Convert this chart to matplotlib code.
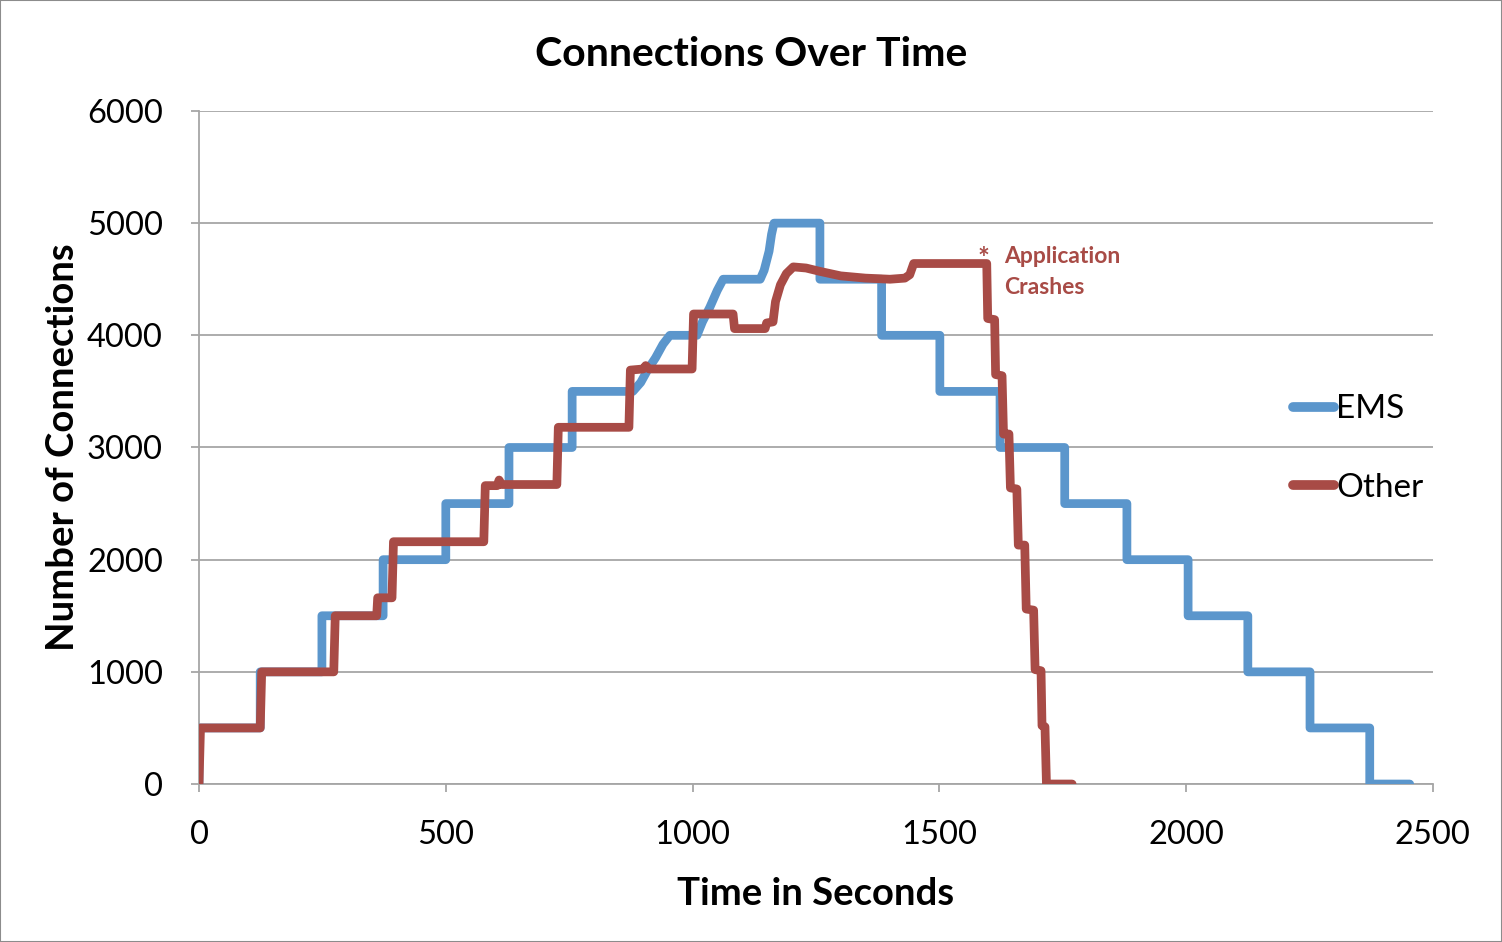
import numpy as np
import matplotlib.pyplot as plt
from matplotlib.patches import Rectangle

plt.rcParams['font.family'] = ['Lato', 'DejaVu Sans']

# EMS series (time in seconds, number of connections)
ems_t = [0, 0, 124, 124, 249, 249, 373, 373, 500, 500, 628, 628, 756, 756,
         879, 895, 910, 925, 940, 954, 1009, 1020, 1035, 1050, 1062,
         1137, 1145, 1155, 1160, 1165, 1258, 1258, 1383, 1383, 1501, 1501,
         1623, 1623, 1754, 1754, 1880, 1880, 2004, 2004, 2125, 2125,
         2251, 2251, 2372, 2372, 2453]
ems_v = [0, 500, 500, 1000, 1000, 1500, 1500, 2000, 2000, 2500, 2500, 3000, 3000, 3500,
         3500, 3580, 3700, 3800, 3920, 4000, 4000, 4120, 4250, 4400, 4500,
         4500, 4580, 4750, 4900, 5000, 5000, 4500, 4500, 4000, 4000, 3500,
         3500, 3000, 3000, 2500, 2500, 2000, 2000, 1500, 1500, 1000,
         1000, 500, 500, 0, 0]

# Other series
other_t = [0, 3, 124, 127, 273, 276, 360, 362, 391, 394, 577, 580, 604, 608, 613,
           725, 728, 871, 874, 900, 905, 912, 999, 1002, 1082, 1085, 1147, 1150,
           1163, 1168, 1178, 1190, 1204, 1230, 1258, 1300, 1350, 1400, 1430, 1440,
           1448, 1596, 1598, 1612, 1614, 1627, 1630, 1641, 1644, 1657, 1660, 1673,
           1676, 1691, 1694, 1706, 1708, 1714, 1717, 1769]
other_v = [0, 500, 500, 1000, 1000, 1500, 1500, 1660, 1660, 2160, 2160, 2660, 2660, 2710, 2670,
           2670, 3180, 3180, 3690, 3700, 3730, 3700, 3700, 4190, 4190, 4060, 4060, 4110,
           4120, 4300, 4450, 4550, 4610, 4600, 4570, 4530, 4510, 4500, 4510, 4540,
           4640, 4640, 4150, 4140, 3650, 3640, 3120, 3120, 2640, 2630, 2130, 2130,
           1560, 1550, 1020, 1010, 520, 510, 0, 0]

x_ticks = [0, 500, 1000, 1500, 2000, 2500]
y_ticks = [0, 1000, 2000, 3000, 4000, 5000, 6000]

blue = '#5B96CC'
red = '#A84B46'
grid_c = '#A6A6A6'

fig = plt.figure(figsize=(15.02, 9.42), dpi=100)
ax = fig.add_axes([0.1325, 0.1677, 0.8215, 0.7145])

ax.plot(ems_t, ems_v, color=blue, lw=6.3, solid_joinstyle='round',
        solid_capstyle='round', label='EMS', zorder=3)
ax.plot(other_t, other_v, color=red, lw=6.3, solid_joinstyle='round',
        solid_capstyle='round', label='Other', zorder=4)

ax.set_xlim(0, 2500)
ax.set_ylim(0, 6000)
ax.set_xticks(x_ticks)
ax.set_yticks(y_ticks)
ax.yaxis.grid(True, color=grid_c, lw=1.3)
ax.set_axisbelow(True)
for s in ['top', 'right']:
    ax.spines[s].set_visible(False)
for s in ['left', 'bottom']:
    ax.spines[s].set_color(grid_c)
    ax.spines[s].set_linewidth(1.3)
ax.tick_params(axis='both', colors=grid_c, labelcolor='black', labelsize=23.5,
               length=6, width=1.3, direction='out')
ax.tick_params(axis='x', pad=20)
ax.tick_params(axis='y', pad=20)

fig.text(0.5, 0.942, 'Connections Over Time', fontsize=29.5, fontweight='bold',
         ha='center', va='center')
ax.set_xlabel('Time in Seconds', fontsize=27.5, fontweight='bold', labelpad=19)
ax.set_ylabel('Number of Connections', fontsize=27.5, fontweight='bold', labelpad=5)

ax.text(1589, 4680, '*', color=red, fontsize=20, fontweight='bold', ha='center', va='center')
ax.text(1632, 4565, 'Application\nCrashes', color=red, fontsize=16.5, fontweight='bold',
        ha='left', va='center', linespacing=1.55)

leg = ax.legend(loc='center left', bbox_to_anchor=(0.862, 0.4985), frameon=False,
                fontsize=24, handlelength=1.25, handletextpad=0.05, labelspacing=1.45)
for h in leg.get_lines():
    h.set_linewidth(7)

fig.patches.append(Rectangle((0, 0), 1, 1, transform=fig.transFigure, fill=False,
                             edgecolor='#8C8C8C', lw=1.5))

fig.savefig('out.png', dpi=100)
